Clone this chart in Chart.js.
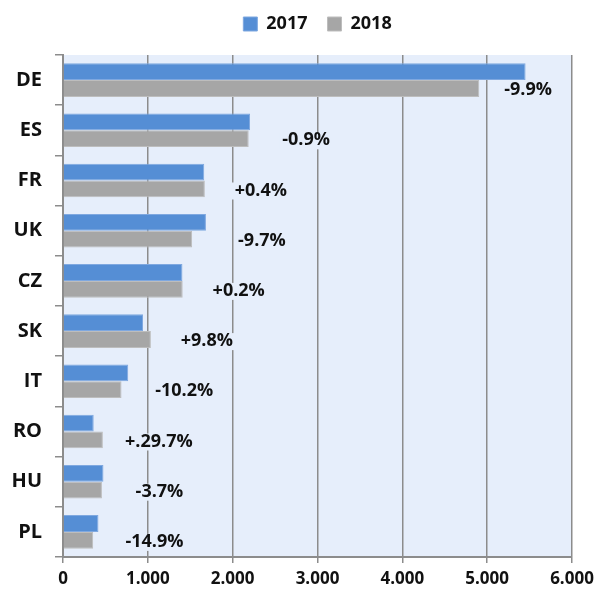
<!DOCTYPE html>
<html>
<head>
<meta charset="utf-8">
<script src="https://cdn.jsdelivr.net/npm/chart.js@4/dist/chart.umd.min.js"></script>
<style>
  html, body { margin: 0; padding: 0; background: #fff; }
  #wrap { width: 600px; height: 598px; }
</style>
</head>
<body>
<div id="wrap"><canvas id="myChart" width="600" height="598"></canvas></div>
<script>
var countries = ['DE', 'ES', 'FR', 'UK', 'CZ', 'SK', 'IT', 'RO', 'HU', 'PL'];
var values2017 = [5453, 2205, 1665, 1685, 1408, 943, 769, 362, 477, 418];
var values2018 = [4907, 2189, 1672, 1522, 1411, 1036, 690, 470, 459, 356];
var changeLabels = ['-9.9%', '-0.9%', '+0.4%', '-9.7%', '+0.2%', '+9.8%', '-10.2%', '+.29.7%', '-3.7%', '-14.9%'];
var xTicks = [0, 1000, 2000, 3000, 4000, 5000, 6000];

var FONT = '"Open Sans", "Liberation Sans", sans-serif';
var PLOT_BG = '#E6EEFB';
var GRID = '#8C8C8C';

function fmt(v) {
    return String(v).replace(/\B(?=(\d{3})+(?!\d))/g, '.');
}

// light blue plot background
var plotBg = {
    id: 'plotBg',
    beforeDraw: function (chart) {
        var a = chart.chartArea, ctx = chart.ctx;
        ctx.save();
        ctx.fillStyle = PLOT_BG;
        ctx.fillRect(a.left, a.top, a.right - a.left, a.bottom - a.top);
        ctx.restore();
    }
};

// % change labels next to each pair of bars
var changeText = {
    id: 'changeText',
    afterDatasetsDraw: function (chart) {
        var ctx = chart.ctx, a = chart.chartArea;
        var m0 = chart.getDatasetMeta(0), m1 = chart.getDatasetMeta(1);
        ctx.save();
        ctx.font = 'bold 18px ' + FONT;
        ctx.textAlign = 'center';
        ctx.textBaseline = 'middle';
        changeLabels.forEach(function (txt, i) {
            var end = Math.max(m0.data[i].x, m1.data[i].x);
            var w = ctx.measureText(txt).width;
            var x = Math.min(end + 56, a.right - w / 2 - 20);
            var y = chart.scales.y.getPixelForValue(i) + 10;
            ctx.fillStyle = PLOT_BG;
            ctx.fillRect(x - w / 2 - 3, y - 8, w + 6, 17);
            ctx.fillStyle = '#111';
            ctx.fillText(txt, x, y);
        });
        ctx.restore();
    }
};

var ctx = document.getElementById('myChart').getContext('2d');
var myChart = new Chart(ctx, {
    type: 'bar',
    data: {
        labels: countries,
        datasets: [{
            label: '2017',
            data: values2017,
            backgroundColor: '#558ED5',
            borderColor: '#7FA8E0',
            borderWidth: 1,
            barPercentage: 1.0,
            categoryPercentage: 0.67
        }, {
            label: '2018',
            data: values2018,
            backgroundColor: '#A6A6A6',
            borderColor: '#BDBDBD',
            borderWidth: 1,
            barPercentage: 1.0,
            categoryPercentage: 0.67
        }]
    },
    options: {
        indexAxis: 'y',
        responsive: false,
        animation: false,
        layout: {
            padding: { top: -5, right: 28, left: 0, bottom: 0 }
        },
        plugins: {
            legend: {
                position: 'top',
                fullSize: false,
                labels: {
                    boxWidth: 14,
                    boxHeight: 14,
                    padding: 20,
                    color: '#111',
                    font: { family: FONT, size: 18, weight: 'bold' }
                }
            },
            tooltip: { enabled: false }
        },
        scales: {
            x: {
                min: 0,
                max: 6000,
                afterBuildTicks: function (s) {
                    s.ticks = xTicks.map(function (v) { return { value: v }; });
                },
                afterFit: function (s) { s.height = 41; },
                grid: {
                    color: GRID,
                    lineWidth: 1.5,
                    drawTicks: true,
                    tickLength: 6,
                    tickColor: GRID
                },
                border: { color: GRID, width: 2 },
                ticks: {
                    padding: 6,
                    color: '#111',
                    font: { family: FONT, size: 17, weight: 'bold' },
                    callback: function (v) { return fmt(v); }
                }
            },
            // spacer between legend and plot
            top: {
                axis: 'x',
                position: 'top',
                display: true,
                afterFit: function (s) { s.height = 12; },
                grid: { display: false },
                border: { display: false },
                ticks: { display: false }
            },
            y: {
                afterFit: function (s) { s.width = 63; },
                grid: {
                    drawOnChartArea: false,
                    drawTicks: true,
                    tickLength: 8,
                    color: GRID,
                    lineWidth: 1.5
                },
                border: { color: GRID, width: 2 },
                ticks: {
                    padding: 13,
                    color: '#111',
                    font: { family: FONT, size: 20, weight: 'bold' }
                }
            }
        }
    },
    plugins: [plotBg, changeText]
});
</script>
</body>
</html>
